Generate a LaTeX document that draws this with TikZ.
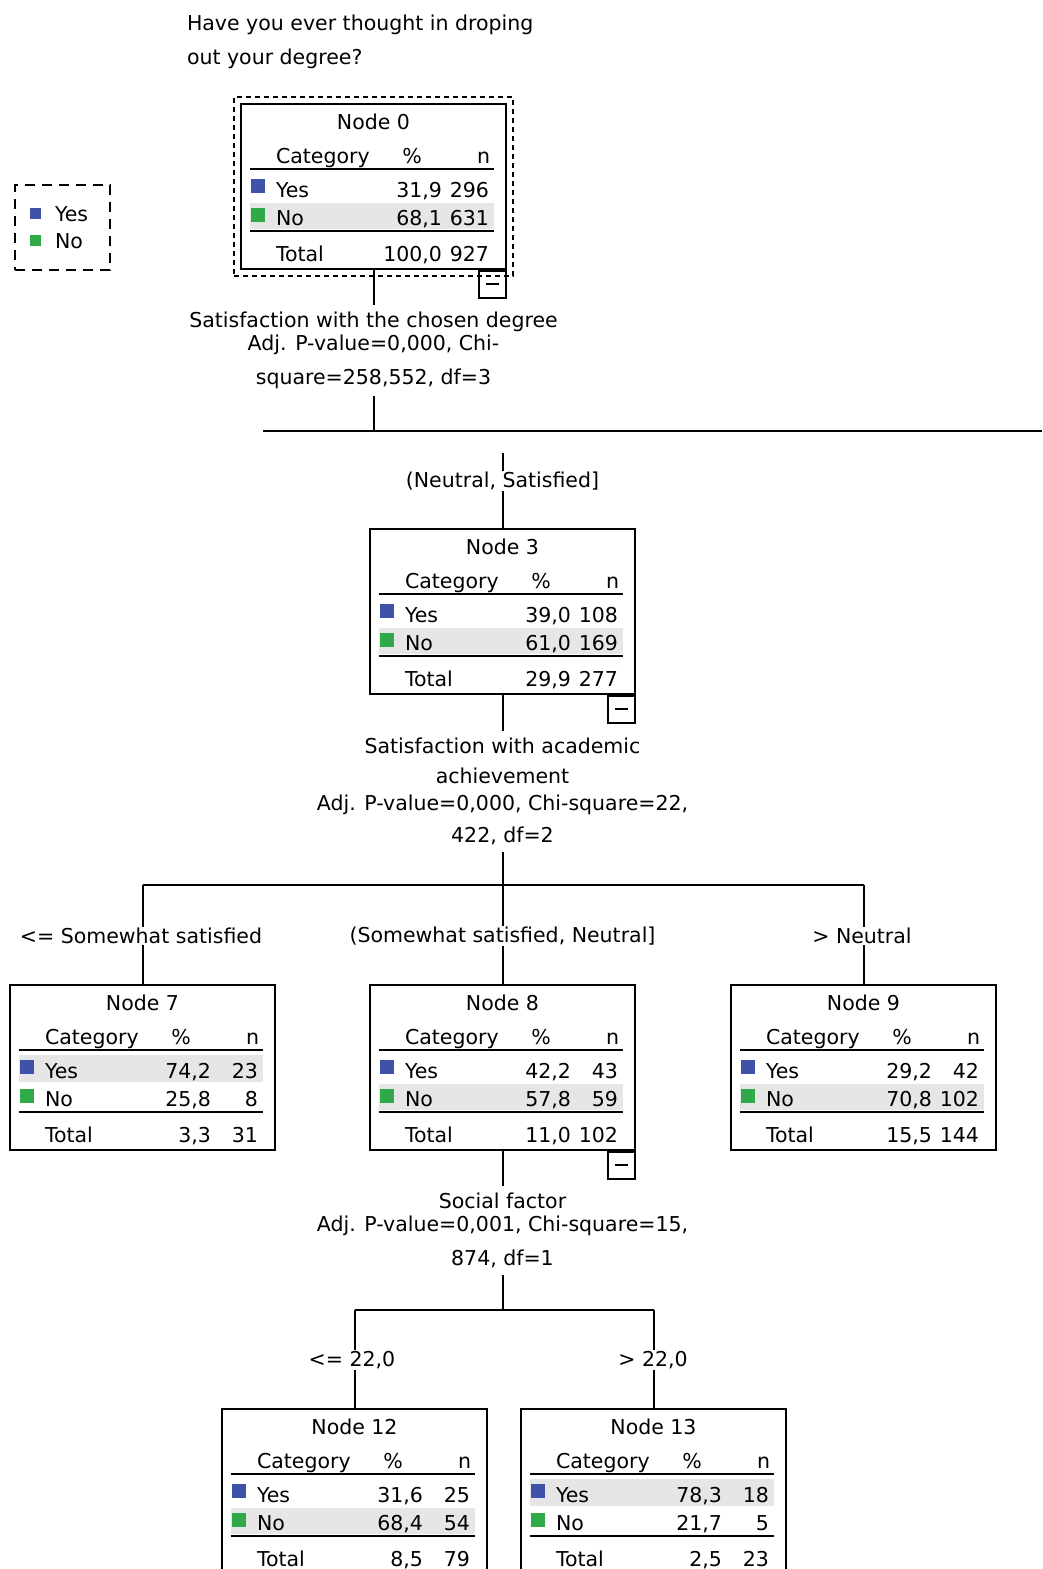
\documentclass[tikz,border=0pt]{standalone}
\usepackage{fontspec}
\setmainfont{DejaVu Sans}
\usetikzlibrary{positioning}

\definecolor{yesblue}{RGB}{62,82,170}
\definecolor{nogreen}{RGB}{48,170,72}
\definecolor{rowgray}{RGB}{230,230,230}

\tikzset{
  tnode/.style={draw, minimum width=265pt, minimum height=165pt, inner sep=0pt},
  cell/.style={inner sep=0pt},
  catrule/.style={line width=2pt},
  splittext/.style={align=center, inner sep=6pt},
  branchlabel/.style={fill=white, inner sep=1pt},
  minusbox/.style={draw, line width=1.6pt, minimum size=27pt, inner sep=0pt},
  legendbox/.style={draw, dash pattern=on 10pt off 7pt, line width=1.6pt, minimum width=95pt, minimum height=85pt},
  selbox/.style={draw, dash pattern=on 5pt off 4pt, line width=1.6pt, minimum width=279pt, minimum height=179pt}
}

\newcommand{\treenode}[9]{%
  \begin{scope}[shift={(#2)}]
    \ifnum#5>#7\relax
      \fill[rowgray] (9,70) rectangle (253,97);
    \else
      \fill[rowgray] (9,99) rectangle (253,125);
    \fi
    \node[tnode] (#1) at (132.5,82.5) {};
    \node[cell, anchor=base] (#1-title) at (132.5,25) {Node #3};
    \node[cell, anchor=base west] (#1-cat) at (34,59) {Category};
    \node[cell, anchor=base] (#1-pct) at (171,59) {\%};
    \node[cell, anchor=base east] (#1-n) at (250,59) {n};
    \draw[catrule] (9,65) -- (253,65);
    \fill[yesblue] (10,75) rectangle (24,89);
    \node[cell, anchor=base west] (#1-yes) at (34,93) {Yes};
    \node[cell, anchor=base east] (#1-yesp) at (202,93) {#4};
    \node[cell, anchor=base east] (#1-yesn) at (249,93) {#5};
    \fill[nogreen] (10,104) rectangle (24,118);
    \node[cell, anchor=base west] (#1-no) at (34,121) {No};
    \node[cell, anchor=base east] (#1-nop) at (202,121) {#6};
    \node[cell, anchor=base east] (#1-non) at (249,121) {#7};
    \draw[catrule] (9,127) -- (253,127);
    \node[cell, anchor=base west] (#1-tot) at (34,157) {Total};
    \node[cell, anchor=base east] (#1-totp) at (202,157) {#8};
    \node[cell, anchor=base east] (#1-totn) at (249,157) {#9};
  \end{scope}}

\begin{document}
\begin{tikzpicture}[x=1pt, y=-1pt, font=\fontsize{20.5}{23}\selectfont, line width=2pt]
  \clip (0,0) rectangle (1042,1569);

  \node[cell, anchor=base west] (q1) at (186,30) {Have you ever thought in droping};
  \node[cell, anchor=base west] (q2) at (186,64) {out your degree?};

  \node[legendbox] (leg) at (62.5,227.5) {};
  \fill[yesblue] (30,208) rectangle (41,219);
  \fill[nogreen] (30,235) rectangle (41,246);
  \node[cell, anchor=base west] (leg-yes) at (54,221) {Yes};
  \node[cell, anchor=base west] (leg-no) at (54,248) {No};

  \treenode{n0}{241,104}{0}{31,9}{296}{68,1}{631}{100,0}{927}
  \node[selbox] (sel0) at (n0.center) {};
  \node[minusbox, anchor=north east] (m0) at (n0.south east) {\rule{13pt}{1.8pt}};
  \node[splittext, below=35pt of n0] (s0) {Satisfaction with the chosen degree\\Adj. P-value=0,000, Chi-\\[11pt]square=258,552, df=3};
  \path (n0.south) edge (s0.north);
  \coordinate (h0w) at (263,431);
  \coordinate (h0e) at (1042,431);
  \draw (s0.south) -- (s0.south |- h0w);
  \draw (h0w) -- (h0e);

  \treenode{n3}{370,529}{3}{39,0}{108}{61,0}{169}{29,9}{277}
  \coordinate (t3) at (502.5,453);
  \draw (t3) -- (n3.north);
  \node[branchlabel] (b3) at (502.5,481) {(Neutral, Satisfied]};
  \node[minusbox, anchor=north east] (m3) at (n3.south east) {\rule{13pt}{1.8pt}};
  \node[splittext, below=36pt of n3] (s3) {Satisfaction with academic\\[7pt]achievement\\[4pt]Adj. P-value=0,000, Chi-square=22,\\[9pt]422, df=2};
  \path (n3.south) edge (s3.north);
  \coordinate (h3w) at (142.5,885);
  \coordinate (h3e) at (863.5,885);
  \draw (s3.south) -- (s3.south |- h3w);
  \draw (h3w) -- (h3e);

  \treenode{n7}{10,985}{7}{74,2}{23}{25,8}{8}{3,3}{31}
  \treenode{n8}{370,985}{8}{42,2}{43}{57,8}{59}{11,0}{102}
  \treenode{n9}{731,985}{9}{29,2}{42}{70,8}{102}{15,5}{144}
  \foreach \k in {7,8,9} \draw (n\k.north |- h3w) -- (n\k.north);
  \node[branchlabel] (b7) at (141,936) {<= Somewhat satisfied};
  \node[branchlabel] (b8) at (502.5,936) {(Somewhat satisfied, Neutral]};
  \node[branchlabel] (b9) at (862,936) {> Neutral};

  \node[minusbox, anchor=north east] (m8) at (n8.south east) {\rule{13pt}{1.8pt}};
  \node[splittext, below=35pt of n8] (s8) {Social factor\\Adj. P-value=0,001, Chi-square=15,\\[11pt]874, df=1};
  \path (n8.south) edge (s8.north);
  \coordinate (h8w) at (354.5,1310);
  \coordinate (h8e) at (653.5,1310);
  \draw (s8.south) -- (s8.south |- h8w);
  \draw (h8w) -- (h8e);

  \treenode{n12}{222,1409}{12}{31,6}{25}{68,4}{54}{8,5}{79}
  \treenode{n13}{521,1409}{13}{78,3}{18}{21,7}{5}{2,5}{23}
  \foreach \k in {12,13} \draw (n\k.north |- h8w) -- (n\k.north);
  \node[branchlabel] (b12) at (352,1360) {<= 22,0};
  \node[branchlabel] (b13) at (653,1360) {> 22,0};
\end{tikzpicture}
\end{document}
